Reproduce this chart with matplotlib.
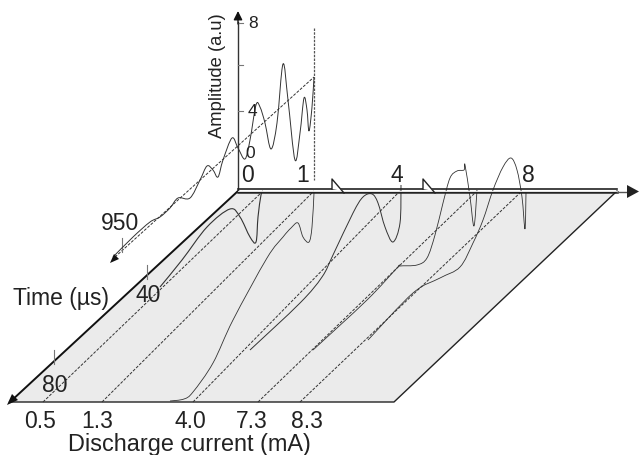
import matplotlib
matplotlib.use("Agg")
import matplotlib.pyplot as plt
from matplotlib.path import Path
from matplotlib.patches import PathPatch, Polygon

plt.rcParams['font.family'] = ['Liberation Sans', 'DejaVu Sans']

# everything, in pixels of the 639x455 image
currents = ["0.5", "1.3", "4.0", "7.3", "8.3"]
dash_bottom_x = [43, 102, 193, 258, 300]
dash_top_x = [263, 314, 400, 477, 522]

trace_back_x = [113, 133, 150, 160, 170, 178, 190, 200, 207, 213, 218, 223, 232, 238, 245, 250, 256, 260, 265, 271, 277, 283, 288, 295, 300, 304, 307, 309, 312, 314]
trace_back_y = [257, 237, 222, 217, 208, 198, 198, 180, 166, 170, 177, 160, 138, 148, 159, 140, 105, 107, 123, 149, 123, 64, 100, 160, 133, 98, 110, 131, 107, 77]

trace_05_x = [160, 182, 207, 230, 240, 250, 256, 258, 261, 263]
trace_05_y = [287, 260, 227, 209, 217, 237, 242, 217, 195, 191]
trace_13_x = [170, 184, 193, 213, 233, 267, 283, 291, 298, 303, 309, 312, 314]
trace_13_y = [401, 399, 392, 363, 320, 258, 237, 228, 223, 237, 242, 227, 193]
trace_40_x = [250, 300, 322, 333, 353, 363, 372, 378, 385, 393, 400, 401]
trace_40_y = [350, 303, 277, 255, 213, 197, 194, 203, 227, 242, 223, 185]
trace_73_x = [313, 367, 397, 400, 417, 427, 435, 443, 450, 457, 464, 465, 470, 474, 477]
trace_73_y = [350, 300, 268, 266, 265, 258, 235, 203, 178, 171, 170, 165, 197, 226, 190]
trace_83_x = [368, 413, 440, 460, 473, 483, 493, 503, 511, 517, 522, 525, 526]
trace_83_y = [340, 293, 278, 267, 243, 220, 190, 167, 158, 170, 197, 229, 192]

y_ticks = [23, 65, 111]
time_tick_x = [122, 147, 54]
time_tick_top = [238, 265, 350]
time_tick_bot = [252, 279, 364]
break_x = [332, 423]


def smooth(ax, xs, ys, lw, color="#333333"):
    # catmull-rom through the read points, as bezier segments
    pts = list(zip(xs, ys))
    verts = [pts[0]]
    codes = [Path.MOVETO]
    for i in range(len(pts) - 1):
        p0 = pts[max(i - 1, 0)]
        p1 = pts[i]
        p2 = pts[i + 1]
        p3 = pts[min(i + 2, len(pts) - 1)]
        c1 = (p1[0] + (p2[0] - p0[0]) / 6, p1[1] + (p2[1] - p0[1]) / 6)
        c2 = (p2[0] - (p3[0] - p1[0]) / 6, p2[1] - (p3[1] - p1[1]) / 6)
        verts += [c1, c2, p2]
        codes += [Path.CURVE4] * 3
    ax.add_patch(PathPatch(Path(verts, codes), fc="none", ec=color, lw=lw, zorder=4))


fig = plt.figure(figsize=(6.39, 4.55), dpi=100)
ax = fig.add_axes([0, 0, 1, 1])
ax.set_xlim(0, 639)
ax.set_ylim(455, 0)
ax.axis("off")

# floor
ax.add_patch(Polygon([(238, 191), (617, 191), (394, 402), (10, 402)], fc="#ebebeb", ec="none", zorder=1))
ax.plot([617, 394, 10], [191, 402, 402], color="#222222", lw=1.0, zorder=2)
ax.plot([238, 10], [191, 402], color="#111111", lw=1.4, zorder=2)

# dashed time lines
for b, t in zip(dash_bottom_x, dash_top_x):
    ax.plot([b, t], [402, 191], color="#333333", lw=0.7, ls=(0, (3, 1.5)), zorder=3)
ax.plot([115, 314], [257, 77], color="#333333", lw=0.7, ls=(0, (3, 1.5)), zorder=3)
ax.plot([314, 314], [28, 180], color="#555555", lw=0.9, ls=(0, (2, 1)), zorder=3)

# traces
smooth(ax, trace_back_x, trace_back_y, 0.7)
smooth(ax, trace_05_x, trace_05_y, 0.8)
smooth(ax, trace_13_x, trace_13_y, 0.6)
smooth(ax, trace_40_x, trace_40_y, 0.7)
smooth(ax, trace_73_x, trace_73_y, 0.6)
smooth(ax, trace_83_x, trace_83_y, 0.6)

# amplitude axis
ax.plot([238, 238], [190, 22], color="#333333", lw=1.0, zorder=5)
ax.annotate("", xy=(238, 11), xytext=(238, 24), zorder=6,
            arrowprops=dict(arrowstyle="-|>", color="#111111", lw=1, mutation_scale=13, shrinkA=0, shrinkB=0))
for y in y_ticks:
    ax.plot([238, 243], [y, y], color="#777777", lw=0.8, zorder=5)

# current axis, double line with breaks
ax.plot([238, 617], [189.2, 189.2], color="#222222", lw=1.2, zorder=5)
ax.plot([238, 617], [192.2, 192.2], color="#222222", lw=1.8, zorder=5)
ax.plot([238, 617], [190.6, 190.6], color="white", lw=0.6, zorder=5)
ax.plot([617, 628], [191.5, 191.5], color="#555555", lw=1.0, zorder=5)
ax.add_patch(Polygon([(627, 185), (639, 191.5), (627, 198)], fc="#222222", ec="none", clip_on=False, zorder=6))
for b in break_x:
    ax.add_patch(Polygon([(b, 189), (b, 179), (b + 11, 191)], fc="white", ec="none", zorder=6))
    ax.plot([b, b, b + 12], [189, 179, 193], color="#222222", lw=1.0, zorder=7)

# time axis arrowheads and ticks
ax.add_patch(Polygon([(7, 405), (12, 394), (18, 400)], fc="#111111", ec="none", zorder=6))
ax.add_patch(Polygon([(110, 263), (114, 254), (119, 259)], fc="#111111", ec="none", zorder=6))
for x, y0, y1 in zip(time_tick_x, time_tick_top, time_tick_bot):
    ax.plot([x, x], [y0, y1], color="#777777", lw=0.8, zorder=3)

# text
fs = 16.5
def label(x, y, s, **kw):
    ax.text(x, y, s, ha="center", va="center", fontsize=kw.pop("fontsize", fs), color="#222222", zorder=8, **kw)

label(253, 24, "8", fontsize=12.5)
label(252, 112, "4", fontsize=12.5)
label(250, 154, "0", fontsize=12.5)
label(247, 176, "0")
label(303, 176, "1")
label(397, 176, "4")
label(528, 176, "8")
label(120, 224, "950")
label(148, 296, "40")
label(55, 385, "80")
label(61, 298, "Time (µs)")
label(217, 76, "Amplitude (a.u)", rotation=90, fontsize=13.2)
for s, x in zip(currents, [40, 97, 190, 252, 307]):
    label(x, 421, s)
label(189, 444, "Discharge current (mA)", fontsize=16.9)

fig.savefig("out.png", dpi=100)
